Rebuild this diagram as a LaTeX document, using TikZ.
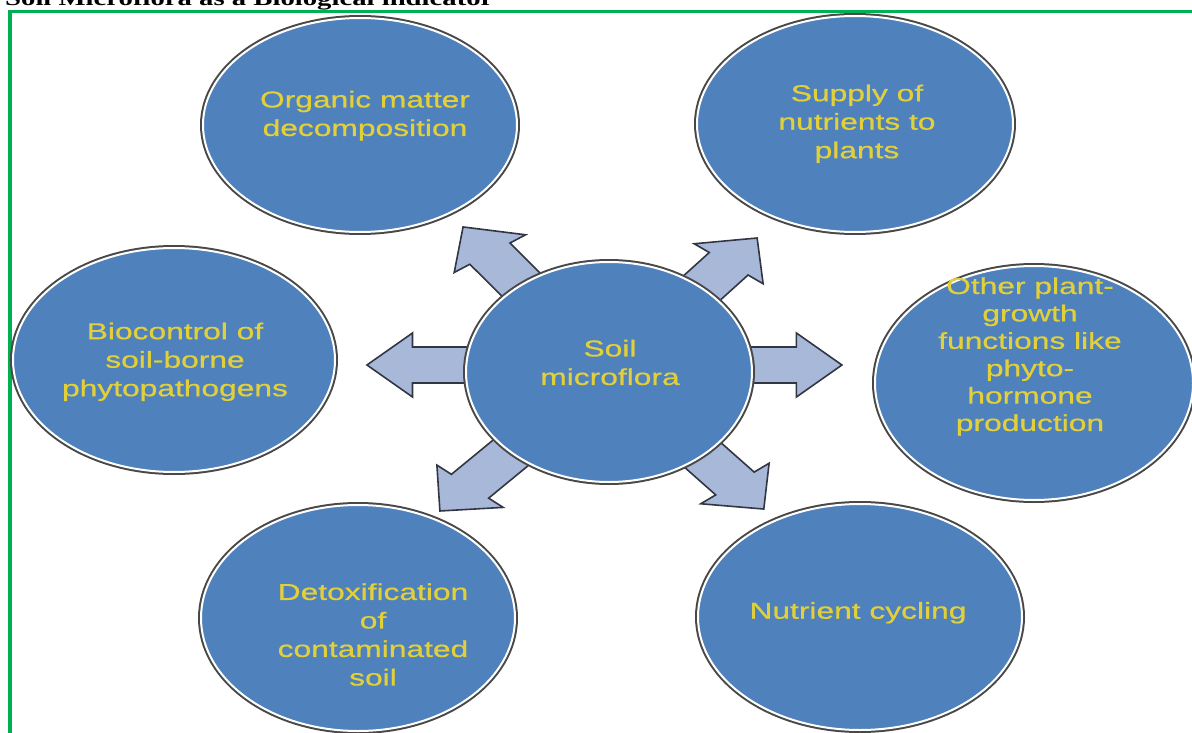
\documentclass[tikz,border=0pt]{standalone}
\usepackage{fontspec}
\setmainfont{Liberation Sans}
\newfontfamily\bubblefont[FakeBold=0.6]{Liberation Sans}
\newfontfamily\titlefont{Liberation Serif}
\usetikzlibrary{shapes.geometric,backgrounds,calc}
\definecolor{ellblue}{RGB}{79,129,189}
\definecolor{ellline}{RGB}{72,72,72}
\definecolor{txtyellow}{RGB}{226,208,58}
\definecolor{arrfill}{RGB}{168,184,216}
\definecolor{arrline}{RGB}{50,54,66}
\definecolor{framegreen}{RGB}{0,176,80}
\tikzset{
  bubble/.style={ellipse, inner sep=0pt, fill=ellblue, draw=white, line width=2pt,
    preaction={draw=ellline, line width=6pt}},
  bubbletext/.style={text=txtyellow, inner sep=0pt, font=\bubblefont\fontsize{23}{28.5}\selectfont},
  blockarr/.style={fill=arrfill, draw=arrline, line width=1.6pt, line join=miter},
}
\newcommand\sxtext[1]{\scalebox{1.38}[1]{\begin{tabular}{@{}c@{}}#1\end{tabular}}}
% block arrow drawn in the unstretched frame, then stretched horizontally
\newcommand\blockarrow[3]{%
  \begin{scope}[shift={#1}, xscale=1.38, rotate=#2]
    \draw[blockarr] (50,-18) -- ({#3-33},-18) -- ({#3-33},-32) -- (#3,0)
      -- ({#3-33},32) -- ({#3-33},18) -- (50,18) -- cycle;
  \end{scope}}
\begin{document}
\begin{tikzpicture}[x=1pt,y=-1pt]
  \useasboundingbox (0,0) rectangle (1192,733);
  \clip (0,0) rectangle (1192,733);
  % title (cut at the top)
  \node[anchor=base west, inner sep=0pt] (title) at (5,5.3)
    {\scalebox{1.38}[1]{\titlefont\bfseries\fontsize{20.8}{24}\selectfont Soil Microflora as a Biological indicator}};
  % frame
  \draw[framegreen, line width=3.6pt] (9.7,11.5) rectangle (1400,900);
  % bubbles
  \node[bubble, minimum width=286pt, minimum height=220pt] (sm) at (609,372) {};
  \node[bubble, minimum width=314pt, minimum height=214pt] (ot) at (360,125) {};
  \node[bubble, minimum width=316pt, minimum height=216pt] (sp) at (855,124) {};
  \node[bubble, minimum width=322pt, minimum height=224pt] (bc) at (174,360) {};
  \node[bubble, minimum width=318pt, minimum height=234pt] (op) at (1034,383) {};
  \node[bubble, minimum width=314pt, minimum height=226pt] (dt) at (358,618) {};
  \node[bubble, minimum width=324pt, minimum height=226pt] (nc) at (860,617) {};
  % texts
  \node[bubbletext] (smt) at (610,365) {\sxtext{Soil\\microflora}};
  \node[bubbletext] (ott) at (365,116) {\sxtext{Organic matter\\decomposition}};
  \node[bubbletext] (spt) at (857,124) {\sxtext{Supply of\\nutrients to\\plants}};
  \node[bubbletext] (bct) at (175,362) {\sxtext{Biocontrol of\\soil-borne\\phytopathogens}};
  \node[bubbletext, font=\bubblefont\fontsize{23}{27.4}\selectfont] (opt) at (1030,357)
    {\sxtext{Other plant-\\growth\\functions like\\phyto-\\hormone\\production}};
  \node[bubbletext] (dtt) at (373,637) {\sxtext{Detoxification\\of\\contaminated\\soil}};
  \node[bubbletext] (nct) at (858,613) {\sxtext{Nutrient cycling}};
  % block arrows from the centre bubble towards the outer bubbles
  \begin{scope}[on background layer]
    \blockarrow{(sm.center)}{126.1}{179.5}   % to ot
    \blockarrow{(sm.center)}{51.3}{171.7}    % to sp
    \blockarrow{(sm.center)}{-131.4}{185.3}  % to dt
    \blockarrow{(sm.center)}{-50.7}{177.1}   % to nc
    \blockarrow{($(sm.center)+(0,-7)$)}{180}{175.4} % to bc
    \blockarrow{($(sm.center)+(0,-7)$)}{0}{168.8}   % to op
  \end{scope}
\end{tikzpicture}
\end{document}
